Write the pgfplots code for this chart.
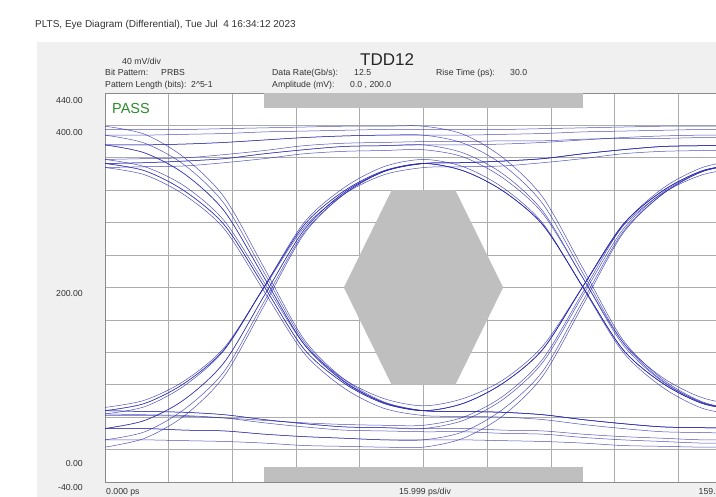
\documentclass[border=0pt]{standalone}
\usepackage{pgfplots}
\pgfplotsset{compat=1.18}
\usepackage{fontspec}
\setmainfont{Liberation Sans}
\definecolor{panel}{RGB}{240,240,240}
\definecolor{gridc}{RGB}{172,172,172}
\definecolor{maskc}{RGB}{191,191,191}
\definecolor{tracec}{RGB}{40,40,175}
\definecolor{passg}{RGB}{46,139,46}
\definecolor{txt}{RGB}{50,50,50}
\newcommand\lbl{\fontsize{8.7}{10}\selectfont}
\tikzset{trace/.style={draw=tracec, line width=0.5pt, opacity=0.8, smooth, no marks}}
\begin{document}
\begin{tikzpicture}[x=1pt,y=1pt]
\useasboundingbox (0,0) rectangle (716,497);
\begin{scope}
\clip (0,0) rectangle (716,497);
\fill[panel] (37,0) rectangle (716,455);
\begin{axis}[at={(105pt,15pt)}, anchor=south west, scale only axis,
  width=637pt, height=389pt,
  xmin=0, xmax=160, ymin=-40, ymax=440,
  xtick={0,16,...,160}, ytick={-40,0,...,440},
  xticklabels={}, yticklabels={},
  grid=major, major grid style={draw=gridc, line width=0.7pt},
  major tick length=0pt,
  axis line style={draw=gridc!80!black, line width=0.7pt},
  axis background/.style={fill=white}]
% mask
\addplot[fill=maskc, draw=none] coordinates {(40,440)(120,440)(120,422)(40,422)};
\addplot[fill=maskc, draw=none] coordinates {(40,-40)(120,-40)(120,-22)(40,-22)};
\addplot[fill=maskc, draw=none] coordinates {(60,200)(72,320)(88,320)(100,200)(88,80)(72,80)};
% traces
\addplot[trace] coordinates {(0,353)(10,354)(20,356)(30,359)(40,365)(50,370)(60,374)(70,375)(80,376)(90,376)(100,377)(110,379)(120,382)(130,385)(140,387)(150,388)(160,388)};
\addplot[trace] coordinates {(0,376)(10,376)(20,377)(30,379)(40,382)(50,385)(60,387)(70,388)(80,388)(90,388)(100,389)(110,390)(120,392)(130,393)(140,394)(150,395)(160,395)};
\addplot[trace] coordinates {(0,388)(10,388)(20,389)(30,390)(40,392)(50,393)(60,394)(70,395)(80,395)(90,395)(100,395)(110,396)(120,397)(130,398)(140,399)(150,399)(160,399)};
\addplot[trace] coordinates {(0,395)(10,395)(20,395)(30,396)(40,397)(50,398)(60,399)(70,399)(80,399)(90,389)(100,360)(110,311)(120,224)(130,136)(140,87)(150,59)(160,48)};
\addplot[trace] coordinates {(0,399)(10,389)(20,360)(30,311)(40,224)(50,136)(60,87)(70,59)(80,48)(90,47)(100,46)(110,43)(120,37)(130,32)(140,28)(150,27)(160,26)};
\addplot[trace] coordinates {(0,48)(10,47)(20,46)(30,43)(40,37)(50,32)(60,28)(70,27)(80,26)(90,26)(100,24)(110,23)(120,19)(130,16)(140,14)(150,12)(160,12)};
\addplot[trace] coordinates {(0,26)(10,26)(20,24)(30,23)(40,19)(50,16)(60,14)(70,12)(80,12)(90,22)(100,50)(110,97)(120,183)(130,268)(140,315)(150,343)(160,353)};
\addplot[trace] coordinates {(0,12)(10,22)(20,50)(30,97)(40,183)(50,268)(60,315)(70,343)(80,353)(90,354)(100,356)(110,359)(120,365)(130,370)(140,374)(150,375)(160,376)};
\addplot[trace] coordinates {(0,353)(10,354)(20,356)(30,359)(40,365)(50,370)(60,374)(70,375)(80,376)(90,366)(100,340)(110,294)(120,212)(130,130)(140,84)(150,58)(160,48)};
\addplot[trace] coordinates {(0,376)(10,366)(20,340)(30,294)(40,212)(50,130)(60,84)(70,58)(80,48)(90,57)(100,82)(110,124)(120,201)(130,277)(140,319)(150,344)(160,353)};
\addplot[trace] coordinates {(0,48)(10,57)(20,82)(30,124)(40,201)(50,277)(60,319)(70,344)(80,353)(90,354)(100,356)(110,359)(120,365)(130,370)(140,374)(150,375)(160,376)};
\addplot[trace] coordinates {(0,358)(10,359)(20,360)(30,364)(40,369)(50,375)(60,378)(70,379)(80,380)(90,380)(100,381)(110,381)(120,383)(130,384)(140,384)(150,385)(160,385)};
\addplot[trace] coordinates {(0,376)(10,376)(20,377)(30,379)(40,382)(50,385)(60,387)(70,388)(80,388)(90,378)(100,351)(110,303)(120,218)(130,133)(140,85)(150,58)(160,48)};
\addplot[trace] coordinates {(0,388)(10,378)(20,351)(30,303)(40,218)(50,133)(60,85)(70,58)(80,48)(90,57)(100,82)(110,124)(120,201)(130,277)(140,319)(150,344)(160,353)};
\addplot[trace] coordinates {(0,48)(10,57)(20,82)(30,124)(40,201)(50,277)(60,319)(70,344)(80,353)(90,344)(100,319)(110,277)(120,201)(130,124)(140,82)(150,57)(160,48)};
\addplot[trace] coordinates {(0,353)(10,344)(20,319)(30,277)(40,201)(50,124)(60,82)(70,57)(80,48)(90,57)(100,82)(110,124)(120,201)(130,277)(140,319)(150,344)(160,353)};
\addplot[trace] coordinates {(0,44)(10,53)(20,79)(30,123)(40,201)(50,280)(60,323)(70,349)(80,358)(90,349)(100,323)(110,279)(120,200)(130,121)(140,77)(150,51)(160,42)};
\addplot[trace] coordinates {(0,353)(10,344)(20,319)(30,277)(40,201)(50,124)(60,82)(70,57)(80,48)(90,47)(100,46)(110,43)(120,37)(130,32)(140,28)(150,27)(160,26)};
\addplot[trace] coordinates {(0,44)(10,43)(20,42)(30,39)(40,33)(50,28)(60,24)(70,23)(80,22)(90,22)(100,20)(110,19)(120,15)(130,12)(140,10)(150,8)(160,8)};
\addplot[trace] coordinates {(0,26)(10,26)(20,24)(30,23)(40,19)(50,16)(60,14)(70,12)(80,12)(90,12)(100,11)(110,10)(120,8)(130,5)(140,4)(150,3)(160,3)};
\addplot[trace] coordinates {(0,12)(10,12)(20,11)(30,10)(40,8)(50,5)(60,4)(70,3)(80,3)(90,14)(100,42)(110,91)(120,178)(130,266)(140,315)(150,343)(160,353)};
\addplot[trace] coordinates {(0,3)(10,14)(20,42)(30,91)(40,178)(50,266)(60,315)(70,343)(80,353)(90,344)(100,319)(110,277)(120,201)(130,124)(140,82)(150,57)(160,48)};
\addplot[trace] coordinates {(0,348)(10,339)(20,314)(30,272)(40,195)(50,119)(60,76)(70,51)(80,42)(90,41)(100,40)(110,37)(120,31)(130,26)(140,22)(150,21)(160,20)};
\addplot[trace] coordinates {(0,48)(10,47)(20,46)(30,43)(40,37)(50,32)(60,28)(70,27)(80,26)(90,36)(100,62)(110,108)(120,190)(130,271)(140,317)(150,343)(160,353)};
\addplot[trace] coordinates {(0,26)(10,36)(20,62)(30,108)(40,190)(50,271)(60,317)(70,343)(80,353)(90,344)(100,319)(110,277)(120,201)(130,124)(140,82)(150,57)(160,48)};
\addplot[trace] coordinates {(0,358)(10,349)(20,325)(30,282)(40,206)(50,130)(60,87)(70,63)(80,54)(90,63)(100,86)(110,128)(120,201)(130,275)(140,316)(150,339)(160,348)};
\addplot[trace] coordinates {(0,52)(10,61)(20,85)(30,126)(40,200)(50,274)(60,315)(70,339)(80,348)(90,349)(100,350)(110,354)(120,359)(130,365)(140,368)(150,369)(160,370)};
\addplot[trace] coordinates {(0,348)(10,349)(20,350)(30,354)(40,359)(50,365)(60,368)(70,369)(80,370)(90,361)(100,335)(110,291)(120,212)(130,133)(140,89)(150,64)(160,54)};
\addplot[trace] coordinates {(0,376)(10,366)(20,340)(30,294)(40,212)(50,130)(60,84)(70,58)(80,48)(90,47)(100,46)(110,43)(120,37)(130,32)(140,28)(150,27)(160,26)};
\addplot[trace] coordinates {(0,42)(10,42)(20,41)(30,39)(40,36)(50,33)(60,31)(70,30)(80,30)(90,40)(100,66)(110,112)(120,194)(130,276)(140,322)(150,348)(160,358)};
\addplot[trace] coordinates {(0,26)(10,36)(20,62)(30,108)(40,190)(50,271)(60,317)(70,343)(80,353)(90,354)(100,356)(110,359)(120,365)(130,370)(140,374)(150,375)(160,376)};
\end{axis}
\begin{scope}[every node/.style={inner sep=0pt, text=txt, font=\lbl}]
\node[anchor=base west, font=\fontsize{10}{12}\selectfont] at (35,469.4) {PLTS, Eye Diagram (Differential), Tue Jul\ \ 4 16:34:12 2023};
\node[anchor=base west] at (122,432.9) {40 mV/div};
\node[anchor=base west] at (105,421.4) {Bit Pattern:};
\node[anchor=base west] at (161,421.4) {PRBS};
\node[anchor=base west] at (105,409.4) {Pattern Length (bits):};
\node[anchor=base west] at (191,409.4) {2\textasciicircum 5-1};
\node[anchor=base west] at (272,421.4) {Data Rate(Gb/s):};
\node[anchor=base west] at (354,421.4) {12.5};
\node[anchor=base west] at (272,409.4) {Amplitude (mV):};
\node[anchor=base west] at (350,409.4) {0.0 , 200.0};
\node[anchor=base west] at (436,421.4) {Rise Time (ps):};
\node[anchor=base west] at (510,421.4) {30.0};
\node[anchor=base west, font=\fontsize{17}{20}\selectfont, text=black!85] at (360,431.9) {TDD12};
\node[anchor=base west, font=\fontsize{14.5}{17}\selectfont, text=passg] at (112,383.8) {PASS};
\node[anchor=base east] at (83,393.9) {440.00};
\node[anchor=base east] at (83,361.9) {400.00};
\node[anchor=base east] at (83,200.9) {200.00};
\node[anchor=base east] at (83,30.9) {0.00};
\node[anchor=base east] at (83,6.9) {-40.00};
\node[anchor=base west] at (106,2.9) {0.000 ps};
\node[anchor=base] at (425,2.9) {15.999 ps/div};
\node[anchor=base east] at (742,2.9) {159.990 ps};
\end{scope}
\end{scope}
\end{tikzpicture}
\end{document}
